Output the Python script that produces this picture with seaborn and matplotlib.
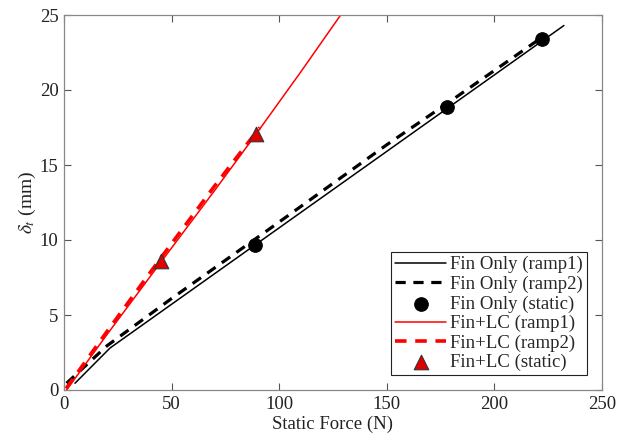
import matplotlib
matplotlib.use("Agg")
import matplotlib.pyplot as plt
import seaborn as sns
import pandas as pd

# Fin only: ramp tests (force N, tip deflection mm)
fin_ramp1_force = [5.1, 21.4, 232.3]
fin_ramp1_defl = [0.45, 2.8, 24.3]
fin_ramp2_force = [1.2, 20.0, 50.0, 100.0, 150.0, 180.0, 221.0]
fin_ramp2_defl = [0.45, 2.95, 6.1, 11.2, 16.35, 19.3, 23.4]
fin_static_force = [88.8, 177.8, 222.0]
fin_static_defl = [9.65, 18.9, 23.4]

# Fin + LC: ramp tests
lc_ramp1_force = [1.2, 20.0, 44.9, 70.0, 89.2, 110.0, 131.0]
lc_ramp1_defl = [0.0, 3.7, 8.5, 13.3, 17.05, 21.2, 25.5]
lc_ramp2_force = [1.0, 20.0, 45.0, 70.0, 91.0]
lc_ramp2_defl = [0.1, 3.9, 8.8, 13.6, 17.5]
lc_static_force = [44.9, 89.2]
lc_static_defl = [8.6, 17.05]

x_ticks = [0, 50, 100, 150, 200, 250]
y_ticks = [0, 5, 10, 15, 20, 25]

sns.set_style("ticks", {"xtick.direction": "in", "ytick.direction": "in"})
plt.rcParams["font.family"] = ["Liberation Serif", "DejaVu Serif"]
plt.rcParams["mathtext.fontset"] = "stix"

fig = plt.figure(figsize=(6.18, 4.42), dpi=100)
ax = fig.add_axes([64 / 618, 52 / 442, 538 / 618, 375 / 442])

def ramp(x, y, color, lw, dashed, label):
    df = pd.DataFrame({"F": x, "d": y})
    sns.lineplot(data=df, x="F", y="d", ax=ax, color=color, linewidth=lw,
                 sort=False, estimator=None, label=label, legend=False,
                 linestyle="--" if dashed else "-")
    if dashed:
        ax.lines[-1].set_dashes((3.2, 2.4))

ramp(fin_ramp1_force, fin_ramp1_defl, "black", 1.1, False, "Fin Only (ramp1)")
ramp(fin_ramp2_force, fin_ramp2_defl, "black", 2.3, True, "Fin Only (ramp2)")
sns.scatterplot(x=fin_static_force, y=fin_static_defl, ax=ax, color="black",
                marker="o", s=95, edgecolor="black", linewidth=0.8,
                label="Fin Only (static)", zorder=5, legend=False)
ramp(lc_ramp1_force, lc_ramp1_defl, "#ff0000", 1.1, False, "Fin+LC (ramp1)")
ramp(lc_ramp2_force, lc_ramp2_defl, "#ff0000", 2.6, True, "Fin+LC (ramp2)")
sns.scatterplot(x=lc_static_force, y=lc_static_defl, ax=ax, color="#e00000",
                marker="^", s=110, edgecolor="#333333", linewidth=0.8,
                label="Fin+LC (static)", zorder=5, legend=False)

ax.set_xlim(0, 250)
ax.set_ylim(0, 25)
ax.set_xticks(x_ticks)
ax.set_yticks(y_ticks)
ax.tick_params(axis="both", which="both", direction="in", length=5,
               width=0.8, color="#555555", labelsize=13.5,
               labelcolor="#222222", top=True, right=True, pad=4)
for sp in ax.spines.values():
    sp.set_visible(True)
    sp.set_color("#888888")
    sp.set_linewidth(0.9)

ax.set_xlabel("Static Force (N)", fontsize=13.5, color="#222222", labelpad=2)
ax.set_ylabel(r"$\delta_t$ (mm)", fontsize=14, color="#222222", labelpad=1)

handles, labels = ax.get_legend_handles_labels()
leg = ax.legend(handles, labels, loc="lower right", fontsize=13.5,
                frameon=True, fancybox=False, edgecolor="#222222",
                framealpha=1.0, handlelength=2.7, handletextpad=0.25,
                labelspacing=0.12, borderpad=0.2, borderaxespad=0.8)
leg.get_frame().set_linewidth(0.8)

fig.savefig("out.png", dpi=100)
